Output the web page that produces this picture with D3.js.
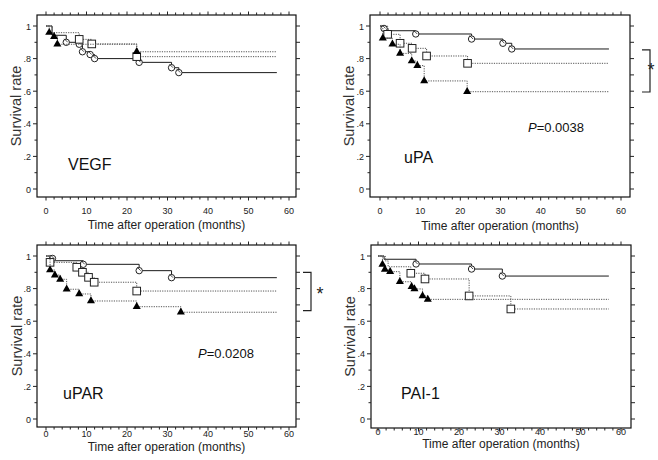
<!DOCTYPE html>
<html>
<head>
<meta charset="utf-8">
<script src="https://cdn.jsdelivr.net/npm/d3@7"></script>
<style>
  body { margin: 0; background: #fff; }
  svg { display: block; font-family: "Liberation Sans", Arial, sans-serif; }
</style>
</head>
<body>
<div id="chart"></div>
<script>
// ---- data (time in months, survival rate), each step: [time, rate, marker]
const panelNames = ["VEGF", "uPA", "uPAR", "PAI-1"];
const pValues = [null, "0.0038", "0.0208", null];
const xTicks = [0, 10, 20, 30, 40, 50, 60];
const yTicks = [0, 0.2, 0.4, 0.6, 0.8, 1];
const yTickLabels = ["0", ".2", ".4", ".6", ".8", "1"];
const followUpEnd = 57;

const vegfCircle = [[1.5, 0.943, 0], [5, 0.90, 1], [8.2, 0.888, 1], [9, 0.842, 1], [10.9, 0.825, 1], [12, 0.80, 1], [23, 0.777, 1], [31, 0.744, 1], [32.8, 0.714, 1]];
const vegfSquare = [[1.5, 0.959, 0], [8.2, 0.918, 1], [11.3, 0.89, 1], [22.4, 0.812, 1]];
const vegfTriangle = [[0.8, 0.96, 1], [2.0, 0.935, 1], [2.8, 0.888, 1], [22.4, 0.842, 1]];

const upaCircle = [[1, 0.985, 1], [2, 0.971, 0], [8.9, 0.951, 1], [22.8, 0.92, 1], [30.6, 0.894, 1], [32.8, 0.859, 1]];
const upaSquare = [[1.9, 0.949, 1], [5, 0.894, 1], [8, 0.863, 1], [11.6, 0.816, 1], [21.8, 0.771, 1]];
const upaTriangle = [[0.7, 0.925, 1], [3.1, 0.888, 1], [5, 0.832, 1], [7.9, 0.785, 1], [9.3, 0.757, 1], [11, 0.663, 1], [21.7, 0.597, 1]];

const uparCircle = [[1.6, 0.985, 1], [2, 0.971, 0], [9.2, 0.949, 1], [23, 0.91, 1], [31, 0.867, 1]];
const uparSquare = [[1, 0.961, 1], [7.6, 0.931, 1], [9, 0.90, 1], [10.5, 0.869, 1], [11.9, 0.839, 1], [22.4, 0.785, 1]];
const uparTriangle = [[1, 0.914, 1], [2.2, 0.883, 1], [3.5, 0.857, 1], [5.1, 0.796, 1], [8.2, 0.767, 1], [11.1, 0.724, 1], [22.4, 0.689, 1], [33.3, 0.655, 1]];

const paiCircle = [[1.5, 0.98, 0], [9.4, 0.951, 1], [23.1, 0.92, 1], [30.7, 0.877, 1]];
const paiSquare = [[1.8, 0.97, 0], [2.5, 0.934, 0], [8.1, 0.894, 1], [11.6, 0.859, 1], [22.5, 0.755, 1], [32.8, 0.675, 1]];
const paiTriangle = [[1.1, 0.949, 1], [1.7, 0.918, 1], [3, 0.904, 1], [5.4, 0.842, 1], [8.3, 0.812, 1], [9, 0.798, 1], [11, 0.755, 1], [12.3, 0.734, 1]];

const panelSeries = [
    [vegfCircle, vegfSquare, vegfTriangle],
    [upaCircle, upaSquare, upaTriangle],
    [uparCircle, uparSquare, uparTriangle],
    [paiCircle, paiSquare, paiTriangle]
];

// significance brackets: [upper rate, lower rate] or null
const brackets = [null, [0.853, 0.595], [0.9, 0.665], null];

// ---- layout
const W = 658, H = 460;
const layout = [
    {fx0: 37, fx1: 296, fy0: 15, fy1: 197, xr: [46, 289], yr: [189, 26], ylx: 16, tly: 214, xly: 229, name: [68, 170], p: [198, 132]},
    {fx0: 370, fx1: 630, fy0: 15, fy1: 197, xr: [380, 621], yr: [189, 26], ylx: 349, tly: 214, xly: 230, name: [404, 163], p: [528, 132], br: 642, star: [651, 76]},
    {fx0: 37, fx1: 296, fy0: 245, fy1: 427, xr: [46, 289], yr: [419, 256], ylx: 17, tly: 437, xly: 451, name: [63, 399], p: [198, 358], br: 303, star: [320, 300]},
    {fx0: 371, fx1: 631, fy0: 245, fy1: 428, xr: [378, 621], yr: [419, 256], ylx: 350, tly: 435, xly: 448, name: [401, 399], p: null}
];

const svg = d3.select("#chart").append("svg")
    .attr("width", W)
    .attr("height", H);

const seriesStyle = [
    {stroke: "#1a1a1a", dash: null, shape: "circle"},
    {stroke: "#555", dash: "1.2,1.2", shape: "square"},
    {stroke: "#555", dash: "1.2,1.2", shape: "triangle"}
];

layout.forEach((L, pi) => {
    let g = svg.append("g");

    let x = d3.scaleLinear().domain([0, 60]).range(L.xr);
    let y = d3.scaleLinear().domain([0, 1]).range(L.yr);

    // frame
    g.append("rect")
        .attr("x", L.fx0).attr("y", L.fy0)
        .attr("width", L.fx1 - L.fx0).attr("height", L.fy1 - L.fy0)
        .attr("fill", "none").attr("stroke", "#111").attr("stroke-width", 1.2);

    // minor / major ticks along top and bottom
    let xMinor = d3.range(0, 61, 2);
    xMinor.forEach(t => {
        let len = (t % 10 === 0) ? 3.5 : 2.5;
        g.append("line").attr("x1", x(t)).attr("x2", x(t))
            .attr("y1", L.fy1).attr("y2", L.fy1 + len)
            .attr("stroke", "#222").attr("stroke-width", 1);
        g.append("line").attr("x1", x(t)).attr("x2", x(t))
            .attr("y1", L.fy0).attr("y2", L.fy0 - len)
            .attr("stroke", "#222").attr("stroke-width", 1);
    });

    // ticks on left and right
    let yMinor = d3.range(0, 11).map(d => d / 10);
    yMinor.forEach(v => {
        let major = Math.round(v * 10) % 2 === 0;
        g.append("line").attr("x1", L.fx0).attr("x2", L.fx0 - (major ? 4 : 2.5))
            .attr("y1", y(v)).attr("y2", y(v))
            .attr("stroke", "#222").attr("stroke-width", 1);
        g.append("line").attr("x1", L.fx1).attr("x2", L.fx1 + 4)
            .attr("y1", y(v)).attr("y2", y(v))
            .attr("stroke", "#222").attr("stroke-width", 1);
    });

    // tick labels
    g.selectAll(".xl").data(xTicks).enter().append("text")
        .attr("x", d => x(d)).attr("y", L.tly)
        .attr("text-anchor", "middle").attr("font-size", 9).attr("fill", "#222")
        .text(d => d);
    g.selectAll(".yl").data(yTicks).enter().append("text")
        .attr("x", L.fx0 - 6).attr("y", d => y(d) + 3.5)
        .attr("text-anchor", "end").attr("font-size", 9).attr("fill", "#222")
        .text((d, i) => yTickLabels[i]);

    // axis titles
    g.append("text")
        .attr("transform", `translate(${L.ylx},${(L.fy0 + L.fy1) / 2}) rotate(-90)`)
        .attr("dy", "0.35em")
        .attr("text-anchor", "middle").attr("font-size", 14.5).attr("fill", "#333")
        .text("Survival rate");
    g.append("text")
        .attr("x", (L.fx0 + L.fx1) / 2).attr("y", L.xly)
        .attr("text-anchor", "middle").attr("font-size", 12).attr("fill", "#222")
        .text("Time after operation (months)");

    // panel name
    g.append("text")
        .attr("x", L.name[0]).attr("y", L.name[1])
        .attr("font-size", 16).attr("fill", "#111")
        .text(panelNames[pi]);

    if (pValues[pi] && L.p) {
        let t = g.append("text")
            .attr("x", L.p[0]).attr("y", L.p[1])
            .attr("font-size", 13).attr("fill", "#111");
        t.append("tspan").attr("font-style", "italic").text("P");
        t.append("tspan").text("=" + pValues[pi]);
    }

    // curves
    panelSeries[pi].forEach((steps, si) => {
        let st = seriesStyle[si];
        let pts = [[0, 1]];
        let prev = 1;
        steps.forEach(s => {
            pts.push([s[0], prev]);
            pts.push([s[0], s[1]]);
            prev = s[1];
        });
        pts.push([followUpEnd, prev]);

        let line = d3.line().x(d => x(d[0])).y(d => y(d[1]));
        g.append("path")
            .attr("d", line(pts))
            .attr("fill", "none")
            .attr("stroke", st.stroke)
            .attr("stroke-width", 1)
            .attr("stroke-dasharray", st.dash);

        let marks = steps.filter(s => s[2] === 1);
        marks.forEach(s => {
            let cx = x(s[0]), cy = y(s[1]);
            if (st.shape === "circle") {
                g.append("circle").attr("cx", cx).attr("cy", cy).attr("r", 3.2)
                    .attr("fill", "#fff").attr("stroke", "#222").attr("stroke-width", 1);
                g.append("line").attr("x1", cx - 2).attr("x2", cx + 1.5)
                    .attr("y1", cy - 3.5).attr("y2", cy)
                    .attr("stroke", "#222").attr("stroke-width", 0.8);
            } else if (st.shape === "square") {
                g.append("rect").attr("x", cx - 3.8).attr("y", cy - 3.8)
                    .attr("width", 7.6).attr("height", 7.6)
                    .attr("fill", "#fff").attr("stroke", "#222").attr("stroke-width", 1);
            } else {
                g.append("path")
                    .attr("d", d3.symbol().type(d3.symbolTriangle).size(28)())
                    .attr("transform", `translate(${cx},${cy})`)
                    .attr("fill", "#000");
            }
        });
    });

    // significance bracket
    if (brackets[pi]) {
        let b = brackets[pi];
        g.append("path")
            .attr("d", `M${L.br},${y(b[0])}H${L.br + 8}V${y(b[1])}H${L.br}`)
            .attr("fill", "none").attr("stroke", "#222").attr("stroke-width", 1.2);
        g.append("text")
            .attr("x", L.star[0]).attr("y", L.star[1])
            .attr("text-anchor", "middle").attr("font-size", 18).attr("fill", "#222")
            .text("*");
    }
});
</script>
</body>
</html>
